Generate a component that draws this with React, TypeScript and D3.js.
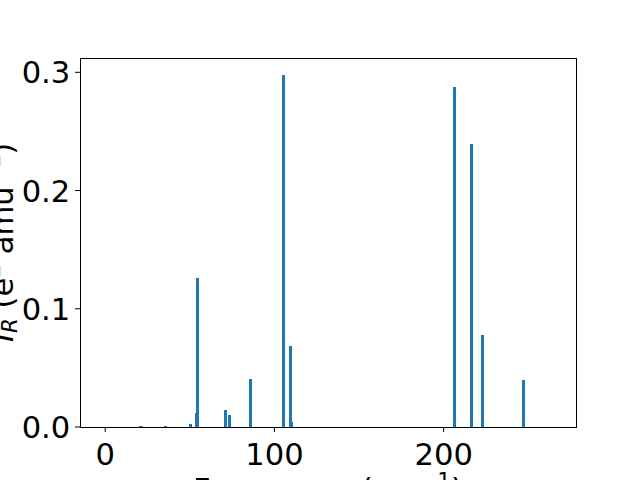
import React from "react";
import * as d3 from "d3";

const frequencies = [21.1, 35.7, 50.4, 54.0, 54.6, 71.1, 73.5, 85.9, 105.4, 109.6, 110.0, 206.5, 216.6, 223.0, 247.3];
const intensities = [0.001, 0.001, 0.0022, 0.012, 0.1257, 0.0147, 0.0104, 0.041, 0.2977, 0.0689, 0.0045, 0.2876, 0.2392, 0.0774, 0.0401];
const xTicks = [0, 100, 200];
const yTicks = [0.0, 0.1, 0.2, 0.3];
const barWidth = 2;

const W = 640;
const H = 480;
const left = 80;
const right = 576;
const top = 58;
const bottom = 427;

export default function App() {
  const x = d3.scaleLinear().domain([-14.9, 278.2]).range([left, right]);
  const y = d3.scaleLinear().domain([0, 0.3121]).range([bottom, top]);
  const font = "DejaVu Sans, sans-serif";
  const fs = 30.6;
  const sfs = 21.4;
  return (
    <svg width={W} height={H} style={{ position: "absolute", left: 0, top: 0, background: "#fff" }}>
      <rect x={0} y={0} width={W} height={H} fill="#fff" />
      {frequencies.map((f, i) => (
        <rect
          key={i}
          x={x(f - barWidth / 2)}
          width={x(f + barWidth / 2) - x(f - barWidth / 2)}
          y={y(intensities[i])}
          height={y(0) - y(intensities[i])}
          fill="#1f77b4"
          shapeRendering="crispEdges"
        />
      ))}
      <rect x={left} y={top} width={right - left} height={bottom - top} fill="none" stroke="#000" strokeWidth={1} shapeRendering="crispEdges" />
      {xTicks.map((t) => (
        <g key={t}>
          <line x1={x(t)} x2={x(t)} y1={bottom} y2={bottom + 5} stroke="#000" strokeWidth={1} />
          <text x={x(t)} y={465} textAnchor="middle" fontFamily={font} fontSize={fs} fill="#000">
            {t}
          </text>
        </g>
      ))}
      {yTicks.map((t) => (
        <g key={t}>
          <line x1={left - 5} x2={left} y1={y(t)} y2={y(t)} stroke="#000" strokeWidth={1} />
          <text x={70.3} y={y(t) + 11} textAnchor="end" fontFamily={font} fontSize={fs} fill="#000">
            {t.toFixed(1)}
          </text>
        </g>
      ))}
      <text
        transform={`translate(12.5, ${(top + bottom) / 2}) rotate(-90)`}
        textAnchor="middle"
        fontFamily={font}
        fontSize={fs}
        fill="#000"
      >
        <tspan fontStyle="italic">I</tspan>
        <tspan fontStyle="italic" fontSize={sfs} dy={4}>R</tspan>
        <tspan dy={-4}> (e</tspan>
        <tspan fontSize={sfs} dy={-12.7}>2</tspan>
        <tspan dy={12.7}> amu</tspan>
        <tspan fontSize={sfs} dy={-12.7}>−1</tspan>
        <tspan dy={12.7}>)</tspan>
      </text>
      <text x={(left + right) / 2} y={500.3} textAnchor="middle" fontFamily={font} fontSize={fs} fill="#000">
        <tspan>Frequency (cm</tspan>
        <tspan fontSize={sfs} dy={-12.7}>−1</tspan>
        <tspan dy={12.7}>)</tspan>
      </text>
    </svg>
  );
}
